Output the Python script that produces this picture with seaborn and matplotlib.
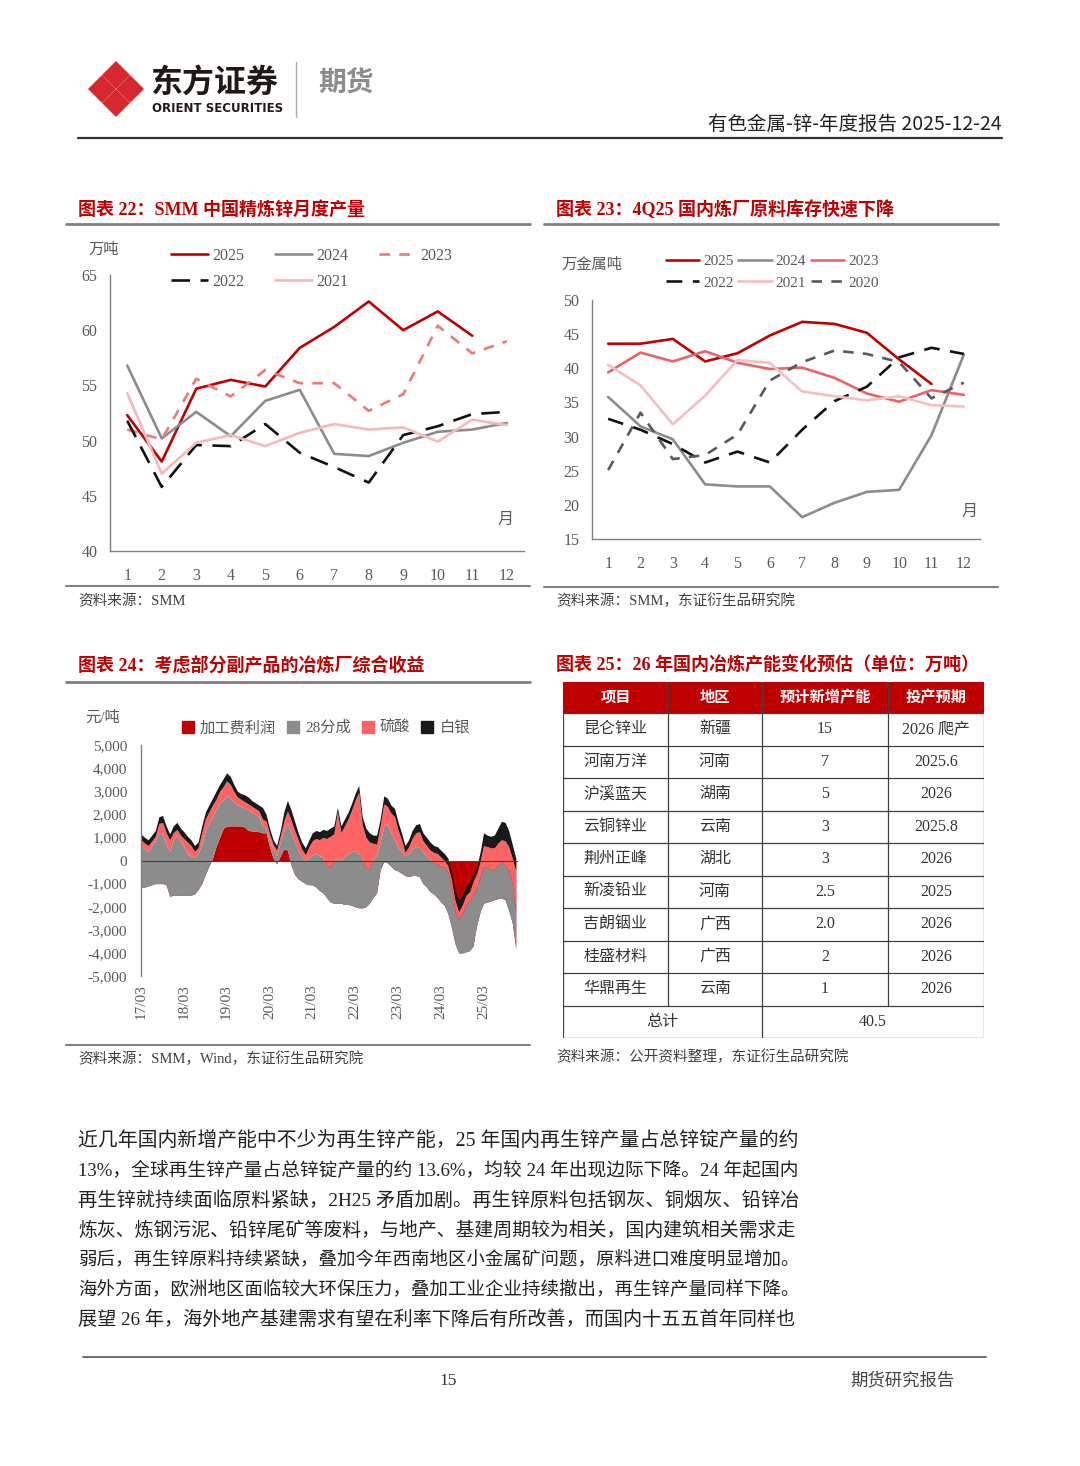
import matplotlib
matplotlib.use('Agg')
import matplotlib.pyplot as plt
from matplotlib.lines import Line2D
from matplotlib.patches import Patch, Rectangle, Polygon
from matplotlib.ticker import FuncFormatter
import matplotlib.dates as mdates
import numpy as np
import pandas as pd
import seaborn as sns

sns.set_style('white')
plt.rcParams['font.family'] = ['Liberation Serif', 'Noto Sans CJK SC']
plt.rcParams['axes.unicode_minus'] = False

SANS = ['Noto Sans CJK SC', 'DejaVu Sans']
RED = '#C00000'
AXIS = '#7F7F7F'
TXT = '#595959'

# ---------------- data: chart 22, SMM refined zinc output (10k t) ----------------
months = list(range(1, 13))
out_2025 = [52.3, 48.1, 54.7, 55.5, 54.9, 58.4, 60.3, 62.6, 60.0, 61.7, 59.5]
out_2024 = [56.8, 50.2, 52.6, 50.4, 53.6, 54.6, 48.8, 48.6, 49.8, 50.8, 51.0, 51.6]
out_2023 = [51.0, 50.1, 55.6, 54.0, 56.4, 55.2, 55.2, 52.7, 54.2, 60.4, 57.9, 59.0]
out_2022 = [51.8, 45.8, 49.6, 49.5, 51.5, 48.9, 47.6, 46.2, 50.5, 51.3, 52.4, 52.6]
out_2021 = [54.3, 47.0, 49.8, 50.5, 49.5, 50.7, 51.5, 51.0, 51.2, 49.9, 51.9, 51.4]

# ---------------- data: chart 23, smelter raw material stock (10k metal t) ----------------
inv_2025 = [43.6, 43.6, 44.3, 41.0, 42.2, 44.8, 46.8, 46.5, 45.2, 41.3, 37.7]
inv_2024 = [35.8, 31.5, 29.6, 23.0, 22.7, 22.7, 18.2, 20.3, 21.9, 22.2, 30.2, 42.0]
inv_2023 = [39.4, 42.3, 41.0, 42.5, 40.8, 39.9, 40.1, 38.6, 36.3, 35.1, 36.8, 36.1]
inv_2022 = [32.6, 31.0, 28.9, 26.2, 27.8, 26.2, 31.0, 35.2, 37.3, 41.6, 43.0, 42.1]
inv_2021 = [40.5, 37.5, 31.8, 36.0, 41.2, 40.8, 36.6, 35.9, 35.3, 35.9, 34.6, 34.4]
inv_2020 = [25.1, 33.5, 26.7, 27.3, 30.3, 38.2, 40.9, 42.6, 42.1, 40.9, 35.6, 37.9]

# ---------------- data: chart 24, smelter combined profit (yuan/t), monthly 2017-03 .. 2025-12 ----------------
profit_start = '2017-03-01'
# 加工费利润
fee_profit = [-1150, -1150, -1100, -1050, -1000, -1000, -1000, -1050, -1550, -1500,
              -1500, -1500, -1500, -1500, -1500, -1450, -1250, -1000, -600, -250, 100, 600,
              1000, 1400, 1480, 1500, 1500, 1500, 1500, 1450, 1300, 1280, 1270, 1250,
              1200, 1200, 600, 100, -150, 200, 500, 450, -200, -600, -800, -900,
              -1000, -1050, -1050, -1150, -1300, -1400, -1600, -1800, -1850, -1850, -1850, -1900,
              -1900, -1950, -2000, -2050, -2050, -2000, -1850, -1600, -1400, -400, -50, -100,
              -250, -400, -450, -550, -650, -700, -650, -650, -700, -1000, -1150, -1350,
              -1450, -1600, -1800, -1950, -2300, -2900, -3600, -4000, -4000, -3950, -3900, -3700,
              -2800, -2200, -1850, -1800, -1750, -1700, -1650, -1620, -1700, -2150, -2700, -3800]
# top of 28分成 layer
top_share = [600, 500, 400, 650, 850, 1200, 1150, 700, 400, 900,
             1100, 850, 600, 300, 200, 150, 300, 700, 1300, 1600, 1900, 2200,
             2500, 2600, 2800, 2700, 2550, 2400, 2350, 2250, 2200, 2100, 2000, 1900,
             1500, 1350, 900, 450, 200, 800, 1300, 1650, 1200, 800, 450, 150,
             0, 150, 250, 300, 200, 150, -200, -300, 0, 100, 0, 200,
             300, 400, 400, 300, 100, -300, -400, 100, 200, 800, 1500, 1600,
             1200, 900, 600, 400, 200, 300, 500, 600, 600, 350, 200, 50,
             -100, -150, -250, -300, -500, -1200, -2200, -2550, -2300, -1900, -1750, -1500,
             -1200, -700, -250, -300, -400, -400, -200, -100, -200, -400, -1000, -2200]
# top of 硫酸 layer
top_acid = [900, 750, 650, 850, 1050, 1600, 1650, 1200, 900, 1200,
            1350, 1100, 950, 800, 650, 400, 550, 1200, 1800, 2100, 2400, 2650,
            3000, 3200, 3450, 3300, 3000, 2750, 2650, 2550, 2450, 2350, 2250, 2150,
            1800, 1700, 1150, 700, 450, 1050, 1700, 2150, 1750, 1300, 900, 500,
            250, 600, 850, 950, 900, 1000, 950, 1050, 1150, 2100, 1200, 1500,
            1800, 2200, 2600, 2950, 1550, 1000, 800, 750, 700, 1500, 2450, 2350,
            2050, 1900, 1350, 900, 350, 600, 950, 1200, 1250, 850, 650, 450,
            350, 300, 150, 0, -200, -800, -1700, -2200, -1900, -1500, -1350, -900,
            -550, 0, 650, 600, 550, 550, 750, 900, 850, 600, 100, -400]
# total (top of 白银 layer)
total = [1150, 1000, 900, 1100, 1300, 1900, 1950, 1500, 1150, 1500,
         1650, 1400, 1250, 1050, 900, 650, 800, 1500, 2100, 2400, 2700, 3000,
         3300, 3550, 3800, 3650, 3300, 3000, 2900, 2850, 2750, 2600, 2500, 2400,
         2300, 2000, 1400, 900, 650, 1300, 2100, 2600, 2200, 1700, 1200, 800,
         550, 900, 1200, 1300, 1250, 1350, 1300, 1400, 1500, 2300, 1500, 1800,
         2100, 2500, 2900, 3250, 1900, 1400, 1200, 1100, 1100, 1800, 2800, 2700,
         2400, 2250, 1700, 1200, 650, 900, 1300, 1550, 1600, 1200, 1000, 800,
         650, 600, 450, 300, 100, -500, -1300, -1700, -1500, -1100, -950, -600,
         -300, 400, 1200, 1100, 1050, 1100, 1400, 1700, 1650, 1300, 700, 100]
profit_labels = ['加工费利润', '28分成', '硫酸', '白银']
profit_colors = [RED, '#8C8C8C', '#FF6464', '#1A1A1A']

# ---------------- data: chart 25, capacity table ----------------
tbl_header = ['项目', '地区', '预计新增产能', '投产预期']
tbl_project = ['昆仑锌业', '河南万洋', '沪溪蓝天', '云铜锌业', '荆州正峰', '新凌铅业', '吉朗铟业', '桂盛材料', '华鼎再生']
tbl_region = ['新疆', '河南', '湖南', '云南', '湖北', '河南', '广西', '广西', '云南']
tbl_capacity = ['15', '7', '5', '3', '3', '2.5', '2.0', '2', '1']
tbl_start = ['2026 爬产', '2025.6', '2026', '2025.8', '2026', '2025', '2026', '2026', '2026']
tbl_total = '40.5'

body_lines = [
    '近几年国内新增产能中不少为再生锌产能，25 年国内再生锌产量占总锌锭产量的约',
    '13%，全球再生锌产量占总锌锭产量的约 13.6%，均较 24 年出现边际下降。24 年起国内',
    '再生锌就持续面临原料紧缺，2H25 矛盾加剧。再生锌原料包括钢灰、铜烟灰、铅锌冶',
    '炼灰、炼钢污泥、铅锌尾矿等废料，与地产、基建周期较为相关，国内建筑相关需求走',
    '弱后，再生锌原料持续紧缺，叠加今年西南地区小金属矿问题，原料进口难度明显增加。',
    '海外方面，欧洲地区面临较大环保压力，叠加工业企业持续撤出，再生锌产量同样下降。',
    '展望 26 年，海外地产基建需求有望在利率下降后有所改善，而国内十五五首年同样也',
]

W, H = 1080, 1466
fig = plt.figure(figsize=(W / 100, H / 100), dpi=100)
fig.patch.set_facecolor('white')


def fx(x):
    return x / W


def fy(y):
    return 1 - y / H


def box(x0, y0, x1, y1):
    return [fx(x0), fy(y1), (x1 - x0) / W, (y1 - y0) / H]


def hline(x0, x1, y, color=AXIS, lw=1.0):
    fig.add_artist(Line2D([fx(x0), fx(x1)], [fy(y), fy(y)], color=color, lw=lw))


def ftext(x, y, s, **kw):
    kw.setdefault('va', 'center')
    kw.setdefault('ha', 'left')
    return fig.text(fx(x), fy(y), s, **kw)


def style_axes(ax):
    for s in ['top', 'right']:
        ax.spines[s].set_visible(False)
    for s in ['left', 'bottom']:
        ax.spines[s].set_color(AXIS)
        ax.spines[s].set_linewidth(1.0)
    ax.set_facecolor('white')
    ax.set_xlabel('')
    ax.set_ylabel('')


def month_axis(ax):
    ax.set_xlim(0.5, 12.5)
    ax.set_xticks(months)
    ax.set_xticks(np.arange(1.5, 13, 1), minor=True)
    ax.tick_params(axis='x', which='major', length=0, pad=12, labelsize=11.5, labelcolor=TXT)
    ax.tick_params(axis='x', which='minor', direction='in', length=5, color=AXIS, width=1)
    ax.tick_params(axis='y', direction='in', length=5, color=AXIS, width=1, pad=9,
                   labelsize=11.5, labelcolor=TXT)


# ---------------- header ----------------
logo = fig.add_axes(box(86, 58, 146, 120))
logo.set_xlim(86, 146)
logo.set_ylim(120, 58)
logo.axis('off')
for cx, cy in [(116, 75), (102, 89), (130, 89), (116, 103)]:
    logo.add_patch(Polygon([(cx, cy - 13), (cx + 13, cy), (cx, cy + 13), (cx - 13, cy)],
                           closed=True, color='#D7282F', joinstyle='round'))
ftext(150, 84, '东方证券', fontsize=23, fontweight='bold', color='#231815', family=SANS)
ftext(152, 109, 'ORIENT SECURITIES', fontsize=8.5, fontweight='bold', color='#231815',
      family=['Liberation Sans Narrow', 'DejaVu Sans'])
fig.add_artist(Line2D([fx(296), fx(296)], [fy(62), fy(117)], color='#AAAAAA', lw=1))
ftext(318, 84, '期货', fontsize=20, fontweight='bold', color='#8C8C8C', family=SANS)
ftext(1002, 124, '有色金属-锌-年度报告 2025-12-24', ha='right', fontsize=14, color='#222222', family=SANS)
hline(78, 1002, 138, color='#333333', lw=1.6)

# ---------------- chart 22 ----------------
ftext(78, 210, '图表 22：SMM 中国精炼锌月度产量', fontsize=13, fontweight='bold', color=RED)
hline(66, 530, 224, color='#808080', lw=2)
ax1 = fig.add_axes(box(110, 275, 524, 551))
series22 = [('2025', out_2025, RED, '-'), ('2024', out_2024, '#8C8C8C', '-'),
            ('2023', out_2023, '#F07878', (0, (4, 3.5))), ('2022', out_2022, '#111111', (0, (7, 4))),
            ('2021', out_2021, '#F6B8B8', '-')]
for name, vals, color, ls in series22:
    sns.lineplot(x=months[:len(vals)], y=vals, ax=ax1, color=color, linestyle=ls, lw=1.9, label=name)
style_axes(ax1)
ax1.set_ylim(40, 65)
ax1.set_yticks(range(40, 66, 5))
month_axis(ax1)
h = ax1.get_lines()
ax1.legend([h[0], h[3], h[1], h[4], h[2]], ['2025', '2022', '2024', '2021', '2023'],
           ncol=3, frameon=False, loc='upper left', bbox_to_anchor=(fx(163), fy(240)),
           bbox_transform=fig.transFigure, borderpad=0, handlelength=2.3, handletextpad=0.3,
           columnspacing=1.9, labelspacing=0.6, prop={'size': 11.5}, labelcolor=TXT)
ftext(88, 250, '万吨', fontsize=11, color=TXT)
ftext(498, 520, '月', fontsize=11.5, color=TXT)
hline(66, 530, 586, color='#808080', lw=1.5)
ftext(78, 601, '资料来源：SMM', fontsize=10.5, color='#404040')

# ---------------- chart 23 ----------------
ftext(556, 210, '图表 23：4Q25 国内炼厂原料库存快速下降', fontsize=13, fontweight='bold', color=RED)
hline(544, 998, 224, color='#808080', lw=2)
ax2 = fig.add_axes(box(592, 300, 980, 539))
series23 = [('2025', inv_2025, RED, '-'), ('2024', inv_2024, '#8C8C8C', '-'),
            ('2023', inv_2023, '#E8636A', '-'), ('2022', inv_2022, '#111111', (0, (6, 4))),
            ('2021', inv_2021, '#F6BEBE', '-'), ('2020', inv_2020, '#595959', (0, (4, 3.5)))]
for name, vals, color, ls in series23:
    sns.lineplot(x=months[:len(vals)], y=vals, ax=ax2, color=color, linestyle=ls, lw=1.9, label=name)
style_axes(ax2)
ax2.set_ylim(15, 50)
ax2.set_yticks(range(15, 51, 5))
month_axis(ax2)
h = ax2.get_lines()
ax2.legend([h[0], h[3], h[1], h[4], h[2], h[5]], ['2025', '2022', '2024', '2021', '2023', '2020'],
           ncol=3, frameon=False, loc='upper left', bbox_to_anchor=(fx(658), fy(247)),
           bbox_transform=fig.transFigure, borderpad=0, handlelength=2.2, handletextpad=0.25,
           columnspacing=0.3, labelspacing=0.5, prop={'size': 11}, labelcolor=TXT)
ftext(561, 265, '万金属吨', fontsize=11, color=TXT)
ftext(962, 512, '月', fontsize=11.5, color=TXT)
hline(544, 998, 587, color='#808080', lw=1.5)
ftext(556, 601, '资料来源：SMM，东证衍生品研究院', fontsize=10.5, color='#404040')

# ---------------- chart 24 ----------------
ftext(78, 666, '图表 24：考虑部分副产品的冶炼厂综合收益', fontsize=13, fontweight='bold', color=RED)
hline(66, 530, 682, color='#808080', lw=2)
ax3 = fig.add_axes(box(141, 745, 518, 976))
dates = pd.date_range(profit_start, periods=len(total), freq='MS')
fee = np.array(fee_profit, dtype=float)
share28 = np.array(top_share) - fee
acid = np.array(top_acid) - np.array(top_share)
silver = np.array(total) - np.array(top_acid)
ax3.stackplot(dates, fee, share28, acid, silver, colors=profit_colors, labels=profit_labels, lw=0)
style_axes(ax3)
ax3.spines['bottom'].set_visible(False)
ax3.axhline(0, color='#404040', lw=0.8)
ax3.set_ylim(-5000, 5000)
ax3.set_yticks(range(-5000, 5001, 1000))
ax3.yaxis.set_major_formatter(FuncFormatter(lambda v, p: f'{v:,.0f}'))
ax3.set_xlim(pd.Timestamp('2017-03-01'), pd.Timestamp('2025-12-20'))
ax3.set_xticks(pd.date_range('2017-03-01', '2025-03-01', freq='12MS'))
ax3.xaxis.set_major_formatter(mdates.DateFormatter('%y/%m'))
ax3.tick_params(axis='x', length=0, pad=6, labelsize=11, labelcolor=TXT, labelrotation=90)
ax3.tick_params(axis='y', direction='in', length=5, color=AXIS, width=1, pad=10,
                labelsize=11, labelcolor=TXT)
ax3.legend([Patch(color=c) for c in profit_colors], profit_labels, ncol=4, frameon=False,
           loc='center left', bbox_to_anchor=(fx(174), fy(728)), bbox_transform=fig.transFigure,
           borderpad=0, handlelength=0.8, handleheight=0.8, handletextpad=0.4,
           columnspacing=0.7, prop={'size': 11}, labelcolor=TXT)
ftext(85, 718, '元/吨', fontsize=11, color=TXT)
hline(66, 530, 1045, color='#808080', lw=1.5)
ftext(78, 1059, '资料来源：SMM，Wind，东证衍生品研究院', fontsize=10.5, color='#404040')

# ---------------- chart 25 table ----------------
ftext(556, 666, '图表 25：26 年国内冶炼产能变化预估（单位：万吨）', fontsize=13, fontweight='bold', color=RED)
ax4 = fig.add_axes(box(563, 682, 984, 1038))
ax4.set_xlim(0, 421)
ax4.set_ylim(356, 0)
ax4.axis('off')
col_edges = [0, 105, 199, 325, 421]
head_h = 31
row_h = (356 - head_h) / (len(tbl_project) + 1)
ax4.add_patch(Rectangle((0, 0), 421, head_h, color=RED, lw=0))
for j, name in enumerate(tbl_header):
    ax4.text((col_edges[j] + col_edges[j + 1]) / 2, head_h / 2, name, ha='center', va='center',
             color='white', fontsize=11, fontweight='bold')
rows = list(zip(tbl_project, tbl_region, tbl_capacity, tbl_start))
for i, row in enumerate(rows):
    yc = head_h + row_h * (i + 0.5)
    for j, val in enumerate(row):
        ax4.text((col_edges[j] + col_edges[j + 1]) / 2, yc, val, ha='center', va='center',
                 color='#333333', fontsize=11.5)
yc = head_h + row_h * (len(rows) + 0.5)
ax4.text(col_edges[2] / 2, yc, '总计', ha='center', va='center', color='#333333', fontsize=11.5)
ax4.text((col_edges[2] + col_edges[4]) / 2, yc, tbl_total, ha='center', va='center',
         color='#333333', fontsize=11.5)
grid = '#404040'
for i in range(len(rows) + 2):
    yy = head_h + row_h * i
    ax4.plot([0, 421], [yy, yy], color=grid, lw=0.9)
ax4.plot([0, 421], [0, 0], color=RED, lw=0.9)
ax4.plot([0, 0], [0, 356], color=grid, lw=0.9)
ax4.plot([421, 421], [0, 356], color=grid, lw=0.9)
y_last = head_h + row_h * len(rows)
for xe in [105, 325]:
    ax4.plot([xe, xe], [0, y_last], color=grid, lw=0.9)
ax4.plot([199, 199], [0, 356], color=grid, lw=0.9)
ftext(556, 1057, '资料来源：公开资料整理，东证衍生品研究院', fontsize=10.5, color='#404040')

# ---------------- body text (each line fitted to the text block width) ----------------
body = [ftext(78, 1141 + k * 29.8, line, fontsize=13.8, color='#222222') for k, line in enumerate(body_lines)]
fig.canvas.draw()
renderer = fig.canvas.get_renderer()
for t in body:
    w = t.get_window_extent(renderer).width
    t.set_fontsize(13.8 * 718 / w)

# ---------------- footer ----------------
hline(83, 986, 1357, color='#555555', lw=1.2)
ftext(448, 1381, '15', ha='center', fontsize=12.5, color='#333333')
ftext(850, 1381, '期货研究报告', fontsize=12.5, color='#444444')

fig.savefig('out.png', dpi=100, facecolor='white')
